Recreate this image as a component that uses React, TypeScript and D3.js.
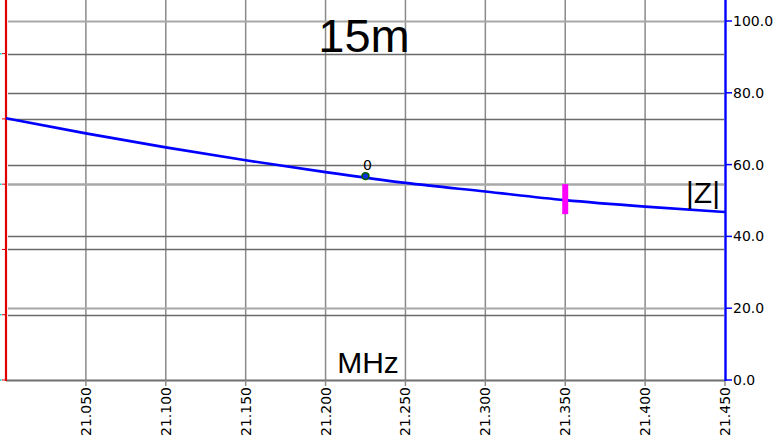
import React from "react";
import * as d3 from "d3";

const freqs = [21.0, 21.05, 21.1, 21.15, 21.2, 21.25, 21.3, 21.35, 21.4, 21.45];
const zValues = [72.9, 68.7, 64.8, 61.2, 57.9, 54.9, 52.5, 50.1, 48.3, 46.8];
const xTicks = [21.05, 21.1, 21.15, 21.2, 21.25, 21.3, 21.35, 21.4, 21.45];
const rightTicks = [0, 20, 40, 60, 80, 100];
const leftTicks = [0, 1, 2, 3, 4, 5];
const lightRight = [20, 100];
const lightLeft = [3];
const markerFreq = 21.225;
const markerValue = 56.8;
const markerLabel = "0";
const cursorFreq = 21.35;
const cursorValue = 50.1;
const title = "15m";
const xTitle = "MHz";
const seriesName = "|Z|";

const W = 783;
const H = 445;
const FONT = "'DejaVu Sans', Verdana, sans-serif";
const ARIAL = "'Liberation Sans', Arial, sans-serif";

export default function App() {
  const x = d3.scaleLinear().domain([21.0, 21.45]).range([6, 725]);
  const yR = d3.scaleLinear().domain([0, 100]).range([380, 21]);
  const yL = d3.scaleLinear().domain([0, 5.5]).range([380, 21]);
  const line = d3
    .line<number>()
    .x((_, i) => x(freqs[i]))
    .y((d) => yR(d))
    .curve(d3.curveMonotoneX);

  return (
    <svg
      width={W}
      height={H}
      style={{ position: "fixed", left: 0, top: 0, background: "#fff" }}
    >
      <rect x={0} y={0} width={W} height={H} fill="#fff" />
      {/* vertical grid */}
      {xTicks.slice(0, -1).map((t) => (
        <line key={"v" + t} x1={x(t)} x2={x(t)} y1={0} y2={380} stroke="#8a8a8a" strokeWidth={1.5} />
      ))}
      {/* right grid */}
      {rightTicks.slice(1).map((t) => (
        <line
          key={"r" + t}
          x1={8}
          x2={724}
          y1={Math.round(yR(t)) + 0.5}
          y2={Math.round(yR(t)) + 0.5}
          stroke={lightRight.includes(t) ? "#a8a8a8" : "#6a6a6a"}
          strokeWidth={lightRight.includes(t) ? 2 : 1.3}
        />
      ))}
      {/* left grid */}
      {leftTicks.slice(1).map((t) => (
        <line
          key={"l" + t}
          x1={8}
          x2={724}
          y1={Math.round(yL(t)) + 0.5}
          y2={Math.round(yL(t)) + 0.5}
          stroke={lightLeft.includes(t) ? "#a8a8a8" : "#6a6a6a"}
          strokeWidth={lightLeft.includes(t) ? 2.5 : 1.3}
        />
      ))}
      {/* bottom axis */}
      <line x1={6} x2={725} y1={380.5} y2={380.5} stroke="#6e6e6e" strokeWidth={2} />
      {xTicks.map((t) => (
        <g key={"xt" + t}>
          <line x1={x(t)} x2={x(t)} y1={380} y2={386} stroke="#8a8a8a" strokeWidth={1.5} />
          <text
            transform={`translate(${x(t) + 5},${387}) rotate(-90)`}
            textAnchor="end"
            fontFamily={FONT}
            fontSize={14}
            fill="#000"
          >
            {t.toFixed(3)}
          </text>
        </g>
      ))}
      {/* left red axis */}
      <line x1={6} x2={6} y1={0} y2={381} stroke="#e00000" strokeWidth={2.2} />
      {leftTicks.map((t) => (
        <g key={"lt" + t}>
          <line x1={2} x2={6} y1={yL(t)} y2={yL(t)} stroke="#e00000" strokeWidth={1} />
          {t % 2 === 1 || t === 0 ? (
            <line x1={0} x2={1.5} y1={yL(t)} y2={yL(t)} stroke="#00d0d0" strokeWidth={1.5} />
          ) : null}
        </g>
      ))}
      {/* right blue axis */}
      <line x1={725.5} x2={725.5} y1={0} y2={381} stroke="#0000ff" strokeWidth={2.4} />
      {rightTicks.map((t) => (
        <g key={"rt" + t}>
          <line x1={725} x2={732} y1={yR(t)} y2={yR(t)} stroke="#0000ff" strokeWidth={1.5} />
          <text x={733} y={yR(t) + 5} fontFamily={FONT} fontSize={14} fill="#000">
            {t.toFixed(1)}
          </text>
        </g>
      ))}
      {/* curve */}
      <path d={line(zValues) || ""} fill="none" stroke="#0000ff" strokeWidth={2.6} />
      {/* marker */}
      <circle cx={x(markerFreq)} cy={yR(markerValue)} r={3.4} fill="#1030e0" stroke="#006000" strokeWidth={1.6} />
      <text x={x(markerFreq) + 2} y={yR(markerValue) - 6} textAnchor="middle" fontFamily={FONT} fontSize={14} fill="#000">
        {markerLabel}
      </text>
      {/* cursor */}
      <line
        x1={x(cursorFreq)}
        x2={x(cursorFreq)}
        y1={yR(cursorValue) - 16}
        y2={yR(cursorValue) + 14}
        stroke="#ff00ff"
        strokeWidth={6}
      />
      {/* titles */}
      <text x={364} y={52} textAnchor="middle" fontFamily={ARIAL} fontSize={47} fill="#000">
        {title}
      </text>
      <text x={368} y={373} textAnchor="middle" fontFamily={ARIAL} fontSize={30} fill="#000">
        {xTitle}
      </text>
      <text x={720} y={203} textAnchor="end" fontFamily={ARIAL} fontSize={30} fill="#000">
        {seriesName}
      </text>
    </svg>
  );
}
